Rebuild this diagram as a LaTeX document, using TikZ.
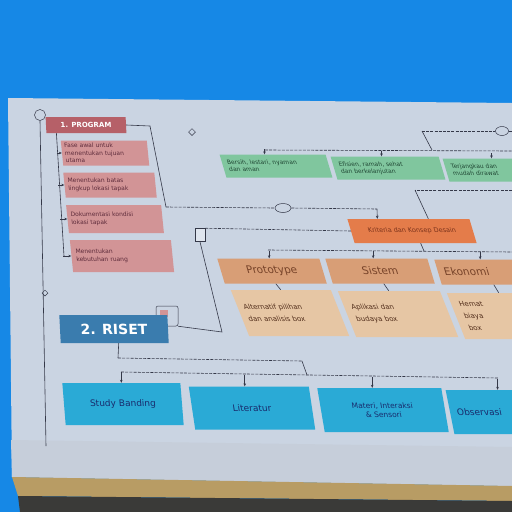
\documentclass[tikz,border=0pt]{standalone}
\usepackage{fontspec}
\setsansfont{DejaVu Sans}
\usetikzlibrary{arrows.meta,shapes.geometric}
\definecolor{wallblue}{RGB}{22,136,230}
\definecolor{board}{RGB}{202,212,226}
\definecolor{boardlow}{RGB}{198,206,218}
\definecolor{ledge}{RGB}{184,156,100}
\definecolor{floorgray}{RGB}{58,58,56}
\definecolor{inkline}{RGB}{52,56,72}
\definecolor{redhd}{RGB}{182,96,104}
\definecolor{pinkbox}{RGB}{210,148,150}
\definecolor{greenbox}{RGB}{128,198,158}
\definecolor{orangebox}{RGB}{228,124,74}
\definecolor{tanhd}{RGB}{216,158,118}
\definecolor{tanbd}{RGB}{230,198,164}
\definecolor{risetbl}{RGB}{58,124,174}
\definecolor{cyanbox}{RGB}{42,170,214}
\definecolor{pinkink}{RGB}{95,45,60}
\definecolor{greenink}{RGB}{35,75,55}
\definecolor{brownink}{RGB}{120,68,42}
\definecolor{navyink}{RGB}{25,45,110}
\definecolor{orangeink}{RGB}{125,52,28}
\tikzset{
  wire/.style={draw=inkline, line width=0.6pt},
  buswire/.style={wire, dash pattern=on 3pt off 1.2pt},
  arrowwire/.style={wire, -{Stealth[length=3pt,width=2.6pt]}},
  card/.style={inner sep=1pt, align=center, transform shape,
    font=\sffamily\fontsize{5.5}{6.5}\selectfont},
  pinkcard/.style={card, fill=pinkbox, text=pinkink, align=left,
    font=\sffamily\fontsize{6}{7.5}\selectfont},
  greencard/.style={card, fill=greenbox, text=greenink, minimum height=23pt, xslant=-0.3,
    text width=96pt, align=left, font=\sffamily\fontsize{6}{7}\selectfont},
  tanheadcard/.style={card, fill=tanhd, text=brownink, minimum height=25pt, xslant=-0.3,
    font=\sffamily\fontsize{10.5}{12}\selectfont},
  tanbodycard/.style={card, fill=tanbd, text=brownink!70!black, minimum height=46pt, xslant=-0.4,
    text width=88pt, align=left, font=\sffamily\fontsize{7}{12}\selectfont},
  bluecard/.style={card, fill=cyanbox, text=navyink, font=\sffamily\fontsize{9}{11}\selectfont},
  icon/.style={draw=inkline, line width=0.5pt, inner sep=0pt},
}
\begin{document}
\begin{tikzpicture}[x=1pt,y=-1pt]
  \clip (0,0) rectangle (512,512);
  % Wall, board and ledge
  \fill[wallblue] (0,0) rectangle (512,512);
  \fill[board] (8,98) -- (512,103) -- (512,486) -- (12,477) -- cycle;
  \fill[boardlow] (11,440) -- (512,447) -- (512,486) -- (12,477) -- cycle;
  \fill[ledge] (12,477) -- (512,486) -- (512,501) -- (18,496) -- cycle;
  \fill[floorgray] (18,496) -- (512,501) -- (512,512) -- (20,512) -- cycle;

  % Part 1
  \node[icon, circle, minimum size=11pt] (c0) at (40,115) {};
  \node[card, fill=redhd, text=white, minimum width=80pt, minimum height=16pt, xslant=-0.05,
    font=\sffamily\bfseries\fontsize{7}{8}\selectfont] (h1) at (86,125) {1. PROGRAM};
  \node[pinkcard, minimum width=86pt, minimum height=25pt, xslant=-0.1, text width=80pt] (p1) at (105,153)
    {Fase awal untuk\\ menentukan tujuan\\ utama};
  \node[pinkcard, minimum width=91pt, minimum height=25pt, xslant=-0.1, text width=84pt] (p2) at (110,185)
    {Menentukan batas\\ lingkup lokasi tapak};
  \node[pinkcard, minimum width=95pt, minimum height=28pt, xslant=-0.1, text width=88pt] (p3) at (115,219)
    {Dokumentasi kondisi\\ lokasi tapak};
  \node[pinkcard, minimum width=101pt, minimum height=32pt, xslant=-0.1, text width=92pt] (p4) at (122,256)
    {Menentukan\\ kebutuhan ruang};
  \node[icon, diamond, minimum size=7pt] (d1) at (192,132) {};
  \node[icon, ellipse, minimum width=16pt, minimum height=9pt] (cl) at (283,208) {};
  \node[icon, minimum width=10pt, minimum height=13pt, fill=board!60!white] (n1) at (200,235) {};

  % Criteria
  \node[card, fill=orangebox, text=orangeink, minimum width=122pt, minimum height=24pt,
    xslant=-0.3, font=\sffamily\fontsize{6.5}{7.5}\selectfont] (o1) at (412,231) {Kriteria dan Konsep Desain};
  \node[icon, ellipse, minimum width=13pt, minimum height=9pt] (lp) at (502,131) {};
  \node[greencard, minimum width=106pt] (g1) at (276,166) {Bersih, lestari, nyaman\\ dan aman};
  \node[greencard, minimum width=108pt] (g2) at (388,168) {Efisien, ramah, sehat\\ dan berkelanjutan};
  \node[greencard, minimum width=108pt] (g3) at (500,170) {Terjangkau dan\\ mudah dirawat};
  \node[tanheadcard, minimum width=102pt] (th1) at (272,271) {Prototype};
  \node[tanheadcard, minimum width=102pt] (th2) at (380,271) {Sistem};
  \node[tanheadcard, minimum width=104pt, text width=92pt, align=left] (th3) at (490,272) {Ekonomi};
  \node[tanbodycard, minimum width=100pt] (tb1) at (290,313) {Alternatif pilihan\\ dan analisis box};
  \node[tanbodycard, minimum width=102pt] (tb2) at (398,314) {Aplikasi dan\\ budaya box};
  \node[tanbodycard, minimum width=104pt] (tb3) at (508,316) {Hemat\\ biaya\\ box};

  % Part 2
  \node[icon, diamond, minimum size=6pt] (d2) at (45,293) {};
  \node[icon, rounded corners=2pt, minimum width=22pt, minimum height=20pt] (n2) at (167,316) {};
  \fill[pinkbox] ([shift={(4,4)}]n2.north west) rectangle ([shift={(12,11)}]n2.north west);
  \node[card, fill=risetbl, text=white, minimum width=108pt, minimum height=28pt, xslant=-0.05,
    font=\sffamily\bfseries\fontsize{14}{16}\selectfont] (rs) at (114,329) {2. RISET};
  \node[bluecard, minimum width=118pt, minimum height=42pt, xslant=-0.08] (c1) at (123,404) {Study Banding};
  \node[bluecard, minimum width=120pt, minimum height=43pt, xslant=-0.15] (c2) at (252,408) {Literatur};
  \node[bluecard, minimum width=124pt, minimum height=44pt, xslant=-0.17,
    font=\sffamily\fontsize{7.5}{9.5}\selectfont] (c3) at (383,410) {Materi, Interaksi\\ \& Sensori};
  \node[bluecard, minimum width=124pt, minimum height=44pt, xslant=-0.2, text width=110pt,
    align=left] (c4) at (512,412) {Observasi};

  % Part 1 links
  \coordinate (fb) at (46,446);
  \draw[wire] (c0.south) -- (fb);
  \coordinate (s1) at (64,256);
  \draw[wire] ([xshift=-30pt]h1.south) -- (s1);
  \foreach \p/\d in {p1/5,p2/6,p3/7,p4/8}
    \draw[arrowwire] ([xshift=-\d pt]\p.west) -- (\p.west);
  \coordinate (r1) at (150,126);
  \coordinate (r2) at (166,207);
  \coordinate (r3) at (377,209);
  \draw[wire] (h1.east) -- (r1) -- (r2);
  \draw[buswire] (r2) -- (cl.west);
  \draw[buswire] (cl.east) -- (r3);
  \draw[arrowwire] (r3) -- ([xshift=-31pt]o1.north);
  \draw[buswire] (n1.north east) -- (o1.west);
  \coordinate (r4) at (222,332);
  \draw[wire] (n1.south) -- (r4) -- (n2.south east);

  % Criteria links
  \coordinate (r5) at (415,190);
  \coordinate (r6) at (512,190);
  \draw[buswire] (r6) -- (r5);
  \draw[wire] (r5) -- ([xshift=20pt]o1.north);
  \coordinate (r7) at (422,131);
  \coordinate (r7e) at (512,131);
  \coordinate (r8) at (432,150);
  \draw[buswire] (r7) -- (lp.west);
  \draw[buswire] (lp.east) -- (r7e);
  \draw[wire] (r7) -- (r8);
  \coordinate (gL) at (265,150);
  \coordinate (gR) at (512,151);
  \draw[buswire] (gL) -- (gR);
  \foreach \b/\d in {g1/-8,g2/-3,g3/-5}
    \draw[arrowwire] ([shift={(\d,-5)}]\b.north) -- ([shift={(\d,0)}]\b.north);
  \coordinate (r9) at (424,251);
  \draw[wire] ([xshift=5pt]o1.south) -- (r9);
  \coordinate (tL) at (268,250);
  \coordinate (tR) at (512,252);
  \draw[buswire] (tL) -- (tR);
  \foreach \b/\d in {th1/1,th2/-3,th3/-6}
    \draw[arrowwire] ([shift={(\d,-7)}]\b.north) -- ([shift={(\d,0)}]\b.north);
  \foreach \h/\b in {th1/tb1,th2/tb2,th3/tb3}
    \draw[wire] (\h.south) -- (\b.north);

  % Part 2 links
  \coordinate (b1) at (118,358);
  \coordinate (b2) at (302,361);
  \coordinate (b3) at (307,375);
  \coordinate (bL) at (121,372);
  \coordinate (bR) at (498,378);
  \draw[wire] ([xshift=4pt]rs.south) -- (b1);
  \draw[buswire] (b1) -- (b2);
  \draw[wire] (b2) -- (b3);
  \draw[buswire] (bL) -- (bR);
  \foreach \b/\d in {c1/0,c2/-4,c3/-7,c4/-10}
    \draw[arrowwire] ([shift={(\d,-11)}]\b.north) -- ([shift={(\d,0)}]\b.north);
\end{tikzpicture}
\end{document}
